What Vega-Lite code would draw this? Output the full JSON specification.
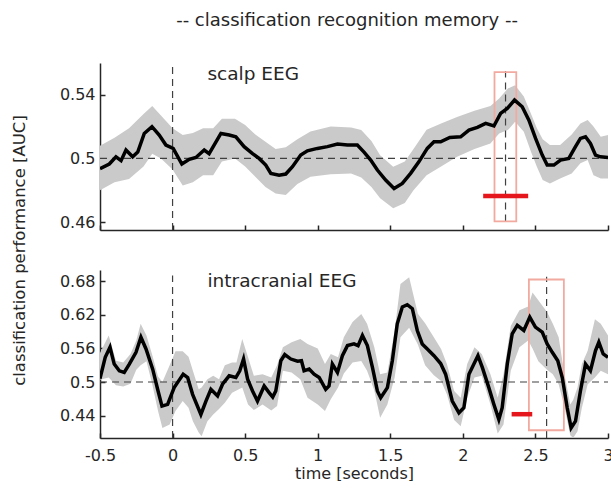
{
  "$schema": "https://vega.github.io/schema/vega-lite/v6.json",
  "padding": {"left": 10, "top": 12, "right": 0, "bottom": 0},
  "background": "white",
  "bounds": "flush",
  "title": {"text": "-- classification recognition memory --", "font": "DejaVu Sans", "fontSize": 18, "fontWeight": "normal", "color": "#262626", "anchor": "middle", "offset": 32, "dx": 35},
  "spacing": 40,
  "config": {
    "view": {"stroke": null},
    "axis": {"domainColor": "#262626", "domainWidth": 1.5, "tickColor": "#262626", "tickWidth": 1.5, "tickSize": -5, "labelFont": "DejaVu Sans", "labelFontSize": 16, "labelColor": "#262626", "labelFlush": false, "titleFont": "DejaVu Sans", "titleFontWeight": "normal", "titleColor": "#262626", "grid": false}
  },
  "datasets": {
    "topLine": [{"t":-0.5,"v":0.4935},{"t":-0.436,"v":0.4965},{"t":-0.39,"v":0.501},{"t":-0.355,"v":0.4986},{"t":-0.321,"v":0.5053},{"t":-0.275,"v":0.501},{"t":-0.24,"v":0.504},{"t":-0.195,"v":0.5157},{"t":-0.142,"v":0.52},{"t":-0.092,"v":0.5147},{"t":-0.046,"v":0.5084},{"t":0.004,"v":0.5063},{"t":0.064,"v":0.4965},{"t":0.115,"v":0.4994},{"t":0.161,"v":0.5006},{"t":0.218,"v":0.5053},{"t":0.252,"v":0.503},{"t":0.333,"v":0.5157},{"t":0.39,"v":0.5147},{"t":0.436,"v":0.5136},{"t":0.493,"v":0.5074},{"t":0.551,"v":0.503},{"t":0.596,"v":0.5},{"t":0.642,"v":0.4958},{"t":0.677,"v":0.4906},{"t":0.734,"v":0.4895},{"t":0.78,"v":0.4902},{"t":0.826,"v":0.4948},{"t":0.883,"v":0.5021},{"t":0.929,"v":0.5048},{"t":0.998,"v":0.5063},{"t":1.067,"v":0.5074},{"t":1.136,"v":0.509},{"t":1.205,"v":0.5084},{"t":1.273,"v":0.5084},{"t":1.319,"v":0.504},{"t":1.365,"v":0.499},{"t":1.411,"v":0.4927},{"t":1.468,"v":0.4864},{"t":1.526,"v":0.4811},{"t":1.583,"v":0.4843},{"t":1.64,"v":0.4906},{"t":1.698,"v":0.498},{"t":1.755,"v":0.5063},{"t":1.801,"v":0.5105},{"t":1.847,"v":0.5105},{"t":1.91,"v":0.5132},{"t":1.985,"v":0.5136},{"t":2.042,"v":0.5178},{"t":2.1,"v":0.5195},{"t":2.157,"v":0.522},{"t":2.214,"v":0.5204},{"t":2.26,"v":0.5283},{"t":2.306,"v":0.5314},{"t":2.356,"v":0.5367},{"t":2.409,"v":0.5325},{"t":2.455,"v":0.5241},{"t":2.501,"v":0.5126},{"t":2.547,"v":0.5021},{"t":2.581,"v":0.4958},{"t":2.627,"v":0.4958},{"t":2.673,"v":0.499},{"t":2.73,"v":0.5},{"t":2.776,"v":0.5074},{"t":2.81,"v":0.5126},{"t":2.845,"v":0.5136},{"t":2.879,"v":0.5094},{"t":2.914,"v":0.5021},{"t":2.948,"v":0.501},{"t":3.0,"v":0.5006}],
    "topBand": [{"t":-0.5,"v":0.48,"v2":0.508},{"t":-0.4,"v":0.485,"v2":0.513},{"t":-0.3,"v":0.487,"v2":0.519},{"t":-0.2,"v":0.495,"v2":0.528},{"t":-0.14,"v":0.503,"v2":0.533},{"t":-0.08,"v":0.5,"v2":0.527},{"t":0.0,"v":0.493,"v2":0.519},{"t":0.07,"v":0.483,"v2":0.5147},{"t":0.14,"v":0.485,"v2":0.516},{"t":0.21,"v":0.4895,"v2":0.519},{"t":0.28,"v":0.4895,"v2":0.519},{"t":0.34,"v":0.498,"v2":0.525},{"t":0.43,"v":0.5,"v2":0.525},{"t":0.5,"v":0.495,"v2":0.521},{"t":0.57,"v":0.4885,"v2":0.515},{"t":0.64,"v":0.482,"v2":0.5105},{"t":0.71,"v":0.478,"v2":0.506},{"t":0.78,"v":0.477,"v2":0.507},{"t":0.86,"v":0.484,"v2":0.512},{"t":0.95,"v":0.4885,"v2":0.517},{"t":1.09,"v":0.49,"v2":0.52},{"t":1.23,"v":0.4906,"v2":0.5195},{"t":1.3,"v":0.488,"v2":0.5178},{"t":1.37,"v":0.482,"v2":0.511},{"t":1.43,"v":0.475,"v2":0.502},{"t":1.52,"v":0.4686,"v2":0.4948},{"t":1.6,"v":0.472,"v2":0.498},{"t":1.66,"v":0.48,"v2":0.506},{"t":1.75,"v":0.4895,"v2":0.518},{"t":1.85,"v":0.495,"v2":0.522},{"t":1.96,"v":0.501,"v2":0.526},{"t":2.08,"v":0.506,"v2":0.53},{"t":2.19,"v":0.5094,"v2":0.533},{"t":2.25,"v":0.5157,"v2":0.5377},{"t":2.31,"v":0.5178,"v2":0.544},{"t":2.36,"v":0.523,"v2":0.546},{"t":2.42,"v":0.5168,"v2":0.539},{"t":2.47,"v":0.504,"v2":0.528},{"t":2.51,"v":0.4948,"v2":0.519},{"t":2.55,"v":0.4864,"v2":0.512},{"t":2.6,"v":0.4843,"v2":0.5084},{"t":2.67,"v":0.4874,"v2":0.5084},{"t":2.75,"v":0.4906,"v2":0.515},{"t":2.81,"v":0.497,"v2":0.522},{"t":2.86,"v":0.499,"v2":0.5241},{"t":2.9,"v":0.4895,"v2":0.52},{"t":2.95,"v":0.4874,"v2":0.5136},{"t":3.0,"v":0.4874,"v2":0.5147}],
    "botLine": [{"t":-0.5,"v":0.506},{"t":-0.464,"v":0.544},{"t":-0.431,"v":0.562},{"t":-0.402,"v":0.532},{"t":-0.367,"v":0.52},{"t":-0.333,"v":0.517},{"t":-0.298,"v":0.532},{"t":-0.252,"v":0.553},{"t":-0.218,"v":0.58},{"t":-0.183,"v":0.559},{"t":-0.137,"v":0.523},{"t":-0.103,"v":0.487},{"t":-0.073,"v":0.457},{"t":-0.034,"v":0.46},{"t":0.011,"v":0.49},{"t":0.042,"v":0.502},{"t":0.073,"v":0.514},{"t":0.104,"v":0.508},{"t":0.138,"v":0.478},{"t":0.195,"v":0.442},{"t":0.23,"v":0.466},{"t":0.264,"v":0.487},{"t":0.31,"v":0.475},{"t":0.344,"v":0.496},{"t":0.39,"v":0.511},{"t":0.436,"v":0.508},{"t":0.463,"v":0.52},{"t":0.489,"v":0.541},{"t":0.517,"v":0.505},{"t":0.551,"v":0.484},{"t":0.585,"v":0.466},{"t":0.631,"v":0.493},{"t":0.665,"v":0.481},{"t":0.69,"v":0.473},{"t":0.711,"v":0.484},{"t":0.746,"v":0.538},{"t":0.773,"v":0.549},{"t":0.815,"v":0.541},{"t":0.861,"v":0.537},{"t":0.888,"v":0.538},{"t":0.906,"v":0.52},{"t":0.941,"v":0.523},{"t":0.975,"v":0.514},{"t":1.01,"v":0.508},{"t":1.055,"v":0.487},{"t":1.078,"v":0.493},{"t":1.101,"v":0.532},{"t":1.136,"v":0.517},{"t":1.17,"v":0.547},{"t":1.205,"v":0.565},{"t":1.25,"v":0.568},{"t":1.278,"v":0.565},{"t":1.308,"v":0.583},{"t":1.342,"v":0.565},{"t":1.377,"v":0.526},{"t":1.411,"v":0.484},{"t":1.434,"v":0.472},{"t":1.48,"v":0.49},{"t":1.514,"v":0.538},{"t":1.548,"v":0.604},{"t":1.583,"v":0.634},{"t":1.617,"v":0.638},{"t":1.652,"v":0.631},{"t":1.686,"v":0.592},{"t":1.72,"v":0.568},{"t":1.755,"v":0.559},{"t":1.801,"v":0.547},{"t":1.847,"v":0.533},{"t":1.881,"v":0.514},{"t":1.927,"v":0.466},{"t":1.973,"v":0.445},{"t":2.007,"v":0.454},{"t":2.042,"v":0.514},{"t":2.076,"v":0.532},{"t":2.104,"v":0.547},{"t":2.134,"v":0.526},{"t":2.179,"v":0.49},{"t":2.214,"v":0.46},{"t":2.248,"v":0.433},{"t":2.271,"v":0.454},{"t":2.306,"v":0.532},{"t":2.34,"v":0.586},{"t":2.375,"v":0.601},{"t":2.42,"v":0.592},{"t":2.461,"v":0.616},{"t":2.5,"v":0.598},{"t":2.547,"v":0.589},{"t":2.581,"v":0.568},{"t":2.616,"v":0.553},{"t":2.654,"v":0.538},{"t":2.685,"v":0.508},{"t":2.719,"v":0.454},{"t":2.746,"v":0.418},{"t":2.776,"v":0.43},{"t":2.81,"v":0.484},{"t":2.845,"v":0.532},{"t":2.879,"v":0.52},{"t":2.914,"v":0.556},{"t":2.937,"v":0.571},{"t":2.967,"v":0.55},{"t":3.0,"v":0.544}],
    "botBand": [{"t":-0.5,"v":0.504,"v2":0.552},{"t":-0.44,"v":0.508,"v2":0.583},{"t":-0.39,"v":0.494,"v2":0.538},{"t":-0.34,"v":0.492,"v2":0.535},{"t":-0.29,"v":0.497,"v2":0.55},{"t":-0.25,"v":0.522,"v2":0.574},{"t":-0.22,"v":0.53,"v2":0.604},{"t":-0.18,"v":0.537,"v2":0.583},{"t":-0.14,"v":0.496,"v2":0.548},{"t":-0.1,"v":0.448,"v2":0.51},{"t":-0.07,"v":0.418,"v2":0.5},{"t":-0.02,"v":0.424,"v2":0.53},{"t":0.02,"v":0.448,"v2":0.555},{"t":0.07,"v":0.466,"v2":0.555},{"t":0.11,"v":0.454,"v2":0.545},{"t":0.14,"v":0.43,"v2":0.52},{"t":0.18,"v":0.41,"v2":0.487},{"t":0.2,"v":0.403,"v2":0.49},{"t":0.24,"v":0.43,"v2":0.505},{"t":0.28,"v":0.442,"v2":0.511},{"t":0.32,"v":0.452,"v2":0.505},{"t":0.36,"v":0.463,"v2":0.53},{"t":0.41,"v":0.481,"v2":0.535},{"t":0.44,"v":0.485,"v2":0.535},{"t":0.48,"v":0.49,"v2":0.577},{"t":0.52,"v":0.46,"v2":0.544},{"t":0.56,"v":0.45,"v2":0.511},{"t":0.62,"v":0.46,"v2":0.514},{"t":0.68,"v":0.449,"v2":0.508},{"t":0.72,"v":0.457,"v2":0.53},{"t":0.76,"v":0.52,"v2":0.562},{"t":0.82,"v":0.517,"v2":0.571},{"t":0.88,"v":0.505,"v2":0.577},{"t":0.93,"v":0.472,"v2":0.568},{"t":1.0,"v":0.46,"v2":0.56},{"t":1.05,"v":0.448,"v2":0.532},{"t":1.09,"v":0.469,"v2":0.55},{"t":1.14,"v":0.49,"v2":0.544},{"t":1.18,"v":0.515,"v2":0.58},{"t":1.24,"v":0.535,"v2":0.607},{"t":1.3,"v":0.5377,"v2":0.6215},{"t":1.34,"v":0.52,"v2":0.604},{"t":1.39,"v":0.485,"v2":0.562},{"t":1.43,"v":0.436,"v2":0.514},{"t":1.48,"v":0.46,"v2":0.517},{"t":1.53,"v":0.508,"v2":0.592},{"t":1.57,"v":0.58,"v2":0.675},{"t":1.63,"v":0.597,"v2":0.687},{"t":1.69,"v":0.567,"v2":0.622},{"t":1.74,"v":0.53,"v2":0.605},{"t":1.8,"v":0.512,"v2":0.58},{"t":1.85,"v":0.502,"v2":0.559},{"t":1.89,"v":0.478,"v2":0.532},{"t":1.94,"v":0.432,"v2":0.484},{"t":1.985,"v":0.421,"v2":0.472},{"t":2.03,"v":0.472,"v2":0.532},{"t":2.08,"v":0.508,"v2":0.562},{"t":2.13,"v":0.511,"v2":0.55},{"t":2.19,"v":0.46,"v2":0.514},{"t":2.24,"v":0.408,"v2":0.472},{"t":2.28,"v":0.424,"v2":0.514},{"t":2.33,"v":0.52,"v2":0.6},{"t":2.39,"v":0.562,"v2":0.628},{"t":2.45,"v":0.574,"v2":0.635},{"t":2.48,"v":0.56,"v2":0.66},{"t":2.52,"v":0.537,"v2":0.646},{"t":2.58,"v":0.522,"v2":0.625},{"t":2.62,"v":0.514,"v2":0.604},{"t":2.66,"v":0.496,"v2":0.58},{"t":2.7,"v":0.455,"v2":0.514},{"t":2.74,"v":0.405,"v2":0.46},{"t":2.76,"v":0.4,"v2":0.468},{"t":2.79,"v":0.412,"v2":0.49},{"t":2.82,"v":0.454,"v2":0.532},{"t":2.86,"v":0.496,"v2":0.556},{"t":2.91,"v":0.508,"v2":0.612},{"t":2.95,"v":0.52,"v2":0.604},{"t":3.0,"v":0.514,"v2":0.583}],
    "topRules": [{"t":0,"t2":0,"v":0.455,"v2":0.56},{"t":-0.5,"t2":3,"v":0.5,"v2":0.5},{"t":2.294,"t2":2.294,"v":0.4604,"v2":0.555}],
    "botRules": [{"t":0,"t2":0,"v":0.4,"v2":0.69},{"t":-0.5,"t2":3,"v":0.5,"v2":0.5},{"t":2.577,"t2":2.577,"v":0.4,"v2":0.688}],
    "topRect": [{"t":2.218,"t2":2.368,"v":0.4604,"v2":0.5542}],
    "botRect": [{"t":2.455,"t2":2.696,"v":0.4138,"v2":0.683}],
    "topBar": [{"t":2.14,"t2":2.45,"v":0.4764}],
    "botBar": [{"t":2.336,"t2":2.478,"v":0.4425}],
    "topLabel": [{"t":0.24,"v":0.553,"label":"scalp EEG"}],
    "botLabel": [{"t":0.24,"v":0.68,"label":"intracranial EEG"}]
  },
  "vconcat": [
    {
      "width": 508,
      "height": 167,
      "encoding": {
        "x": {"field": "t", "type": "quantitative", "scale": {"domain": [-0.5, 3], "nice": false, "zero": false}, "axis": {"values": [-0.5, 0, 0.5, 1, 1.5, 2, 2.5, 3], "labels": false, "title": null}},
        "y": {"field": "v", "type": "quantitative", "scale": {"domain": [0.455, 0.56], "nice": false, "zero": false}, "axis": {"values": [0.46, 0.5, 0.54], "labelExpr": "toString(datum.value)", "labelPadding": 10, "title": null}}
      },
      "layer": [
        {
          "data": {"name": "topBand"},
          "mark": {"type": "area", "color": "#cacaca", "clip": true},
          "encoding": {"y2": {"field": "v2"}}
        },
        {
          "data": {"name": "topRules"},
          "mark": {"type": "rule", "color": "#404040", "strokeWidth": 1.2, "strokeDash": [7, 5]},
          "encoding": {"x2": {"field": "t2"}, "y2": {"field": "v2"}}
        },
        {
          "data": {"name": "topRect"},
          "mark": {"type": "rect", "filled": false, "stroke": "#f2aaa0", "strokeWidth": 1.8},
          "encoding": {"x2": {"field": "t2"}, "y2": {"field": "v2"}}
        },
        {
          "data": {"name": "topLine"},
          "mark": {"type": "line", "color": "black", "strokeWidth": 3.5, "clip": true},
          "encoding": {}
        },
        {
          "data": {"name": "topBar"},
          "mark": {"type": "rule", "color": "#e5161c", "strokeWidth": 4.5},
          "encoding": {"x2": {"field": "t2"}}
        },
        {
          "data": {"name": "topLabel"},
          "mark": {"type": "text", "align": "left", "baseline": "middle", "font": "DejaVu Sans", "fontSize": 18.5, "color": "#262626"},
          "encoding": {"text": {"field": "label"}}
        }
      ]
    },
    {
      "width": 508,
      "height": 168,
      "encoding": {
        "x": {"field": "t", "type": "quantitative", "scale": {"domain": [-0.5, 3], "nice": false, "zero": false}, "axis": {"values": [-0.5, 0, 0.5, 1, 1.5, 2, 2.5, 3], "labelExpr": "toString(datum.value)", "labelPadding": 14, "title": "time [seconds]", "titleFontSize": 16, "titlePadding": 2}},
        "y": {"field": "v", "type": "quantitative", "scale": {"domain": [0.4, 0.7], "nice": false, "zero": false}, "axis": {"values": [0.44, 0.5, 0.56, 0.62, 0.68], "labelExpr": "toString(datum.value)", "labelPadding": 10, "title": "classification performance [AUC]", "titleFontSize": 16.5, "titleX": -76, "titleY": -20, "titleAngle": -90, "titleAlign": "center", "titleBaseline": "alphabetic"}}
      },
      "layer": [
        {
          "data": {"name": "botBand"},
          "mark": {"type": "area", "color": "#cacaca", "clip": true},
          "encoding": {"y2": {"field": "v2"}}
        },
        {
          "data": {"name": "botRules"},
          "mark": {"type": "rule", "color": "#404040", "strokeWidth": 1.2, "strokeDash": [7, 5]},
          "encoding": {"x2": {"field": "t2"}, "y2": {"field": "v2"}}
        },
        {
          "data": {"name": "botRect"},
          "mark": {"type": "rect", "filled": false, "stroke": "#f2aaa0", "strokeWidth": 1.8},
          "encoding": {"x2": {"field": "t2"}, "y2": {"field": "v2"}}
        },
        {
          "data": {"name": "botLine"},
          "mark": {"type": "line", "color": "black", "strokeWidth": 3.5, "clip": true},
          "encoding": {}
        },
        {
          "data": {"name": "botBar"},
          "mark": {"type": "rule", "color": "#e5161c", "strokeWidth": 4.5},
          "encoding": {"x2": {"field": "t2"}}
        },
        {
          "data": {"name": "botLabel"},
          "mark": {"type": "text", "align": "left", "baseline": "middle", "font": "DejaVu Sans", "fontSize": 18.5, "color": "#262626"},
          "encoding": {"text": {"field": "label"}}
        }
      ]
    }
  ]
}
